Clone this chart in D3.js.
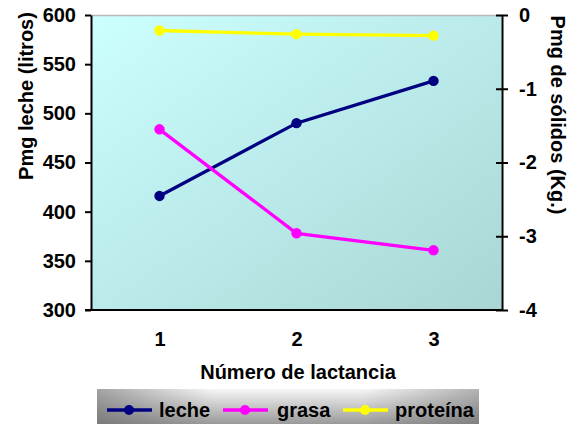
<!DOCTYPE html>
<html>
<head>
<meta charset="utf-8">
<script src="https://cdn.jsdelivr.net/npm/d3@7/dist/d3.min.js"></script>
<style>
  html, body { margin: 0; padding: 0; background: #fff; }
  svg { display: block; font-family: "Liberation Sans", Arial, sans-serif; font-weight: bold; }
  svg text { font-weight: bold; }
</style>
</head>
<body>
<svg id="chart" width="571" height="424"></svg>
<script>
// Lactation number on the x axis
const categories = ["1", "2", "3"];
// Milk yield (left axis, litres)
const leche = [416, 490, 533];
// Solids (right axis, kg)
const grasa = [-1.55, -2.96, -3.19];
const proteina = [-0.21, -0.26, -0.28];

const leftTicks = [300, 350, 400, 450, 500, 550, 600];
const rightTicks = [-4, -3, -2, -1, 0];

const svg = d3.select("#chart");
const X0 = 91, X1 = 502, Y0 = 15, Y1 = 310;

const x = d3.scalePoint().domain(categories).range([X0, X1]).padding(0.5);
const yL = d3.scaleLinear().domain([300, 600]).range([Y1, Y0]);
const yR = d3.scaleLinear().domain([-4, 0]).range([Y1, Y0]);

const defs = svg.append("defs");
const bg = defs.append("linearGradient").attr("id", "plotBg")
  .attr("x1", 0).attr("y1", 0).attr("x2", 1).attr("y2", 1);
bg.append("stop").attr("offset", "0%").attr("stop-color", "#ccffff");
bg.append("stop").attr("offset", "100%").attr("stop-color", "#a8d6d4");

const lg = defs.append("linearGradient").attr("id", "legBg")
  .attr("x1", 0).attr("y1", 0).attr("x2", 0).attr("y2", 1);
lg.append("stop").attr("offset", "0%").attr("stop-color", "#f6f6f6");
lg.append("stop").attr("offset", "100%").attr("stop-color", "#8c8c8c");
const lgH = defs.append("linearGradient").attr("id", "legEdge")
  .attr("x1", 0).attr("y1", 0).attr("x2", 1).attr("y2", 0);
lgH.append("stop").attr("offset", "0%").attr("stop-color", "#606060").attr("stop-opacity", 0.55);
lgH.append("stop").attr("offset", "30%").attr("stop-color", "#606060").attr("stop-opacity", 0);
lgH.append("stop").attr("offset", "70%").attr("stop-color", "#606060").attr("stop-opacity", 0);
lgH.append("stop").attr("offset", "100%").attr("stop-color", "#606060").attr("stop-opacity", 0.45);

// Plot area
svg.append("rect").attr("x", X0).attr("y", Y0).attr("width", X1 - X0).attr("height", Y1 - Y0)
  .attr("fill", "url(#plotBg)").attr("stroke", "#ffffff").attr("stroke-width", 1);
svg.append("line").attr("x1", X0).attr("x2", X1).attr("y1", Y0 + 0.5).attr("y2", Y0 + 0.5)
  .attr("stroke", "#b8b8b8").attr("stroke-width", 1.5);

// Axes (plain hyphen for negative numbers)
const fmt = d => String(d).replace("\u2212", "-");
const axL = svg.append("g").attr("transform", `translate(${X0},0)`)
  .call(d3.axisLeft(yL).tickValues(leftTicks).tickFormat(fmt).tickSize(6).tickPadding(9).tickSizeOuter(0));
const axR = svg.append("g").attr("transform", `translate(${X1},0)`)
  .call(d3.axisRight(yR).tickValues(rightTicks).tickFormat(fmt).tickSize(6).tickPadding(11).tickSizeOuter(0));
axR.selectAll(".tick line").attr("x1", -6);
const axB = svg.append("g").attr("transform", `translate(0,${Y1})`)
  .call(d3.axisBottom(x).tickSize(0).tickPadding(22).tickSizeOuter(0));
axB.select(".domain").attr("d", `M${X0 - 6},0H${X1}`);

[axL, axR, axB].forEach(a => {
  a.attr("font-family", "'Liberation Sans', Arial, sans-serif")
   .attr("font-size", 20).attr("font-weight", "bold");
  a.select(".domain").attr("stroke", "#000").attr("stroke-width", 2);
  a.selectAll(".tick line").attr("stroke", "#000").attr("stroke-width", 2);
  a.selectAll(".tick text").attr("fill", "#000");
});

// Axis titles
svg.append("text").attr("transform", "translate(33,96) rotate(-90)")
  .attr("text-anchor", "middle").style("font-size", "20px").text("Pmg leche (litros)");
svg.append("text").attr("transform", "translate(551,115) rotate(90)")
  .attr("text-anchor", "middle").style("font-size", "20px").text("Pmg de sólidos (Kg.)");
svg.append("text").attr("x", 298).attr("y", 379)
  .attr("text-anchor", "middle").style("font-size", "20px").text("Número de lactancia");

// Series
const series = [
  { name: "leche", values: leche, y: yL, color: "#000080" },
  { name: "grasa", values: grasa, y: yR, color: "#ff00ff" },
  { name: "proteína", values: proteina, y: yR, color: "#ffff00" }
];

series.forEach(s => {
  const pts = categories.map((c, i) => [x(c), s.y(s.values[i])]);
  svg.append("path").attr("d", d3.line()(pts))
    .attr("fill", "none").attr("stroke", s.color).attr("stroke-width", 3.3);
  svg.selectAll(null).data(pts).enter().append("circle")
    .attr("cx", d => d[0]).attr("cy", d => d[1]).attr("r", 5.2).attr("fill", s.color);
});

// Legend
svg.append("rect").attr("x", 97).attr("y", 389).attr("width", 382).attr("height", 40)
  .attr("fill", "url(#legBg)");
svg.append("rect").attr("x", 97).attr("y", 389).attr("width", 382).attr("height", 40)
  .attr("fill", "url(#legEdge)");
const legItems = [
  { s: series[0], lx: 107, tx: 159 },
  { s: series[1], lx: 223, tx: 277 },
  { s: series[2], lx: 343, tx: 395 }
];
legItems.forEach(it => {
  svg.append("line").attr("x1", it.lx).attr("x2", it.lx + 45).attr("y1", 410).attr("y2", 410)
    .attr("stroke", it.s.color).attr("stroke-width", 3.3);
  svg.append("circle").attr("cx", it.lx + 22).attr("cy", 410).attr("r", 5).attr("fill", it.s.color);
  svg.append("text").attr("x", it.tx).attr("y", 417).style("font-size", "20px").text(it.s.name);
});
</script>
</body>
</html>
